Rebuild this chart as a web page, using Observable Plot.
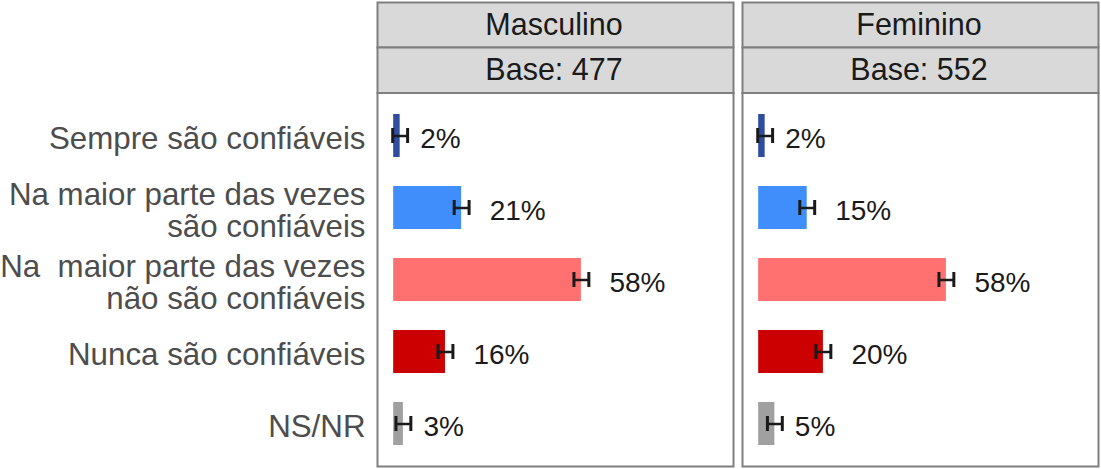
<!DOCTYPE html>
<html><head><meta charset="utf-8">
<script src="https://cdn.jsdelivr.net/npm/d3@7"></script>
<script src="https://cdn.jsdelivr.net/npm/@observablehq/plot@0.6"></script>
<style>body{margin:0;background:#fff} svg text{white-space:pre}</style>
</head><body><div id="chart"></div>
<script>
const sexes = ["Masculino", "Feminino"];
const bases = ["Base: 477", "Base: 552"];
const categories = [
  "Sempre são confiáveis",
  "Na maior parte das vezes\nsão confiáveis",
  "Na\u00a0 maior parte das vezes\nnão são confiáveis",
  "Nunca são confiáveis",
  "NS/NR"
];
const colors = ["#2E4D9E", "#3F8EFC", "#FF7070", "#CC0000", "#A0A0A0"];
const valuesMasculino = [2, 21, 58, 16, 3];
const valuesFeminino = [2, 15, 58, 20, 5];
const errMasculino = [2.3, 2.3, 2.3, 2.3, 2.3];
const errFeminino = [2.3, 2.3, 2.3, 2.3, 2.3];

const headers = sexes.map((s, i) => ({sex: s, base: bases[i]}));
const rows = [];
categories.forEach((c, i) => {
  rows.push({sex: sexes[0], cat: c, value: valuesMasculino[i], err: errMasculino[i]});
  rows.push({sex: sexes[1], cat: c, value: valuesFeminino[i], err: errFeminino[i]});
});
rows.forEach(d => d.label = d.value + "%");
const shortRows = rows.filter(d => d.label.length <= 2);
const longRows = rows.filter(d => d.label.length > 2);

const font = "Liberation Sans, Arial, sans-serif";
const borderColor = "#7f7f7f";

const plot = Plot.plot({
  width: 1101, height: 469,
  marginTop: 92.5, marginBottom: 3, marginLeft: 377, marginRight: 2.7,
  style: {fontFamily: font, background: "white", overflow: "visible"},
  fx: {domain: sexes, axis: null, paddingInner: 0.0252, paddingOuter: 0},
  x: {domain: [-5, 105], axis: null},
  y: {domain: categories, paddingInner: 0.4, paddingOuter: 0.28, align: 0.5},
  color: {domain: categories, range: colors},
  marks: [
    Plot.frame({fill: "#d9d9d9", stroke: borderColor, strokeWidth: 2, insetTop: -90.5, insetBottom: 419}),
    Plot.frame({fill: "#d9d9d9", stroke: borderColor, strokeWidth: 2, insetTop: -45.5, insetBottom: 373.5}),
    Plot.frame({stroke: borderColor, strokeWidth: 2}),
    Plot.text(headers, {fx: "sex", text: "sex", frameAnchor: "top", lineAnchor: "middle", dx: -1.5, dy: -68, fontSize: 30.5, fill: "#1a1a1a"}),
    Plot.text(headers, {fx: "sex", text: "base", frameAnchor: "top", lineAnchor: "middle", dx: -1.5, dy: -22.5, fontSize: 30.5, fill: "#1a1a1a"}),
    Plot.barX(rows, {fx: "sex", y: "cat", x1: 0, x2: "value", fill: "cat"}),
    Plot.ruleY(rows, {fx: "sex", y: "cat", x1: d => d.value - d.err, x2: d => d.value + d.err, stroke: "#1a1a1a", strokeWidth: 2.5}),
    Plot.tickX(rows, {fx: "sex", y: "cat", x: d => d.value - d.err, stroke: "#1a1a1a", strokeWidth: 3, insetTop: 14, insetBottom: 14}),
    Plot.tickX(rows, {fx: "sex", y: "cat", x: d => d.value + d.err, stroke: "#1a1a1a", strokeWidth: 3, insetTop: 14, insetBottom: 14}),
    Plot.text(shortRows, {fx: "sex", y: "cat", x: "value", text: "label", textAnchor: "start", dx: 20, dy: 3.5, fontSize: 28, fill: "#1a1a1a"}),
    Plot.text(longRows, {fx: "sex", y: "cat", x: "value", text: "label", textAnchor: "start", dx: 28, dy: 3.5, fontSize: 28, fill: "#1a1a1a"}),
    Plot.axisY({tickSize: 0, tickPadding: 12, dy: 3, fontSize: 31.3, lineHeight: 1.0, fill: "#4d4d4d", label: null})
  ]
});
document.getElementById("chart").append(plot);
</script>
</body></html>
